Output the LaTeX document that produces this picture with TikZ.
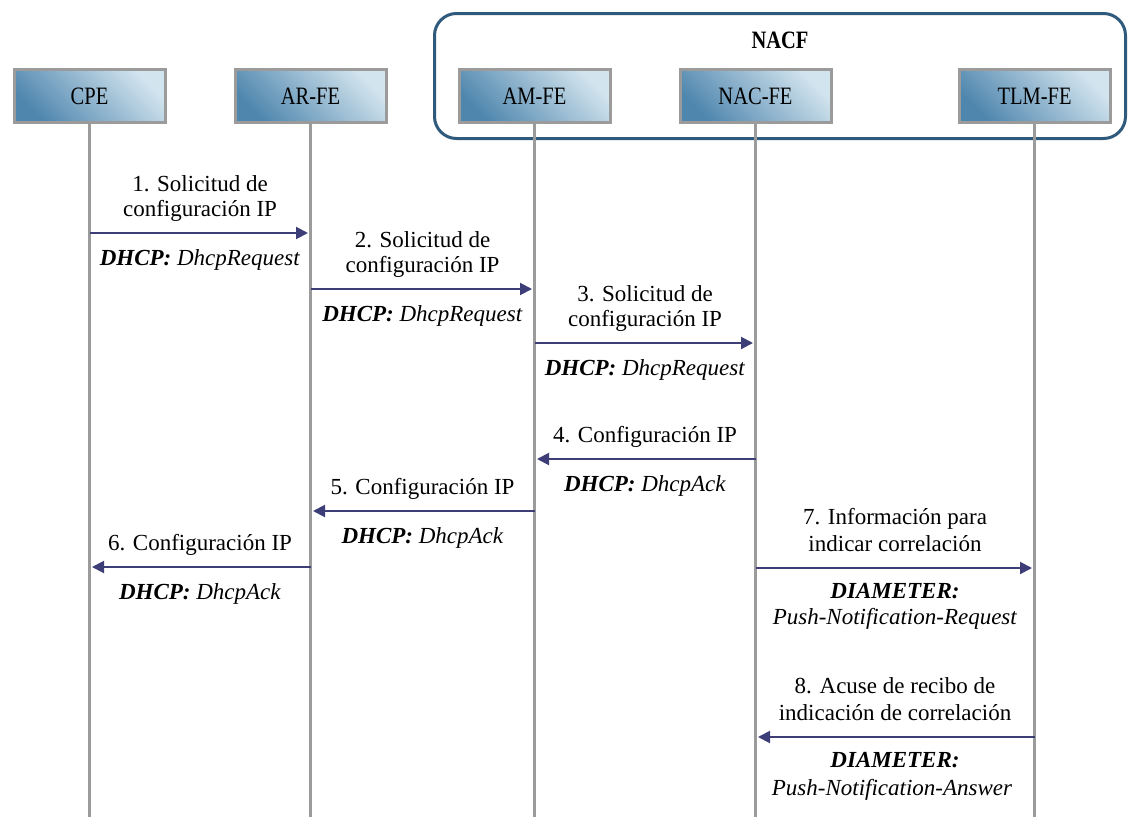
\documentclass[tikz,border=0pt]{standalone}
\usepackage{fontspec}
\setmainfont{Liberation Serif}
\newfontfamily\hdfont[FakeStretch=0.82]{Liberation Serif}
\usetikzlibrary{arrows.meta}

\definecolor{lifegray}{HTML}{9B9B9B}
\definecolor{boxdark}{HTML}{4F86AE}
\definecolor{boxlight}{HTML}{D2E4EE}
\definecolor{msgblue}{HTML}{3D3D78}
\definecolor{frameblue}{HTML}{2F5A7C}

\tikzset{
  entity/.style={draw=lifegray, line width=3pt, minimum width=151pt,
    minimum height=53pt, inner sep=0pt, top color=boxlight,
    bottom color=boxdark, shading angle=-45,
    font=\hdfont\fontsize{25}{28}\selectfont},
  group/.style={draw=frameblue, line width=3pt, rounded corners=22pt,
    minimum width=691pt, minimum height=125pt, inner sep=0pt},
  lifeline/.style={draw=lifegray, line width=3pt},
  msg/.style={draw=msgblue, line width=2pt,
    -{Triangle[length=12pt,width=12pt,sep=2.5pt]}},
  lbl/.style={anchor=base, inner sep=0pt, font=\fontsize{23}{25}\selectfont},
}
\newcommand{\proto}[2]{\textbf{\textit{#1}} \textit{#2}}

\begin{document}
\begin{tikzpicture}[x=1pt,y=-1pt]
  \useasboundingbox (0,0) rectangle (1130,817);

  % NACF grouping frame
  \node[group] (nacf) at (780,76) {};
  \node[anchor=base, inner sep=0pt, font=\hdfont\bfseries\fontsize{25}{28}\selectfont]
    (nacft) at (780,48) {NACF};

  % bottom ends of the lifelines
  \coordinate (bot) at (0,817);

  % entities
  \node[entity] (cpe) at (89.5,96)   {CPE};
  \node[entity] (ar)  at (310.5,96)  {AR-FE};
  \node[entity] (am)  at (534.5,96)  {AM-FE};
  \node[entity] (nac) at (755.5,96)  {NAC-FE};
  \node[entity] (tlm) at (1034.5,96) {TLM-FE};

  % lifelines
  \foreach \e in {cpe,ar,am,nac,tlm}
    \draw[lifeline] (\e.south) -- (\e.south |- bot);

  % message levels
  \coordinate (m1) at (0,233);
  \coordinate (m2) at (0,289);
  \coordinate (m3) at (0,343);
  \coordinate (m4) at (0,459);
  \coordinate (m5) at (0,511);
  \coordinate (m6) at (0,567);
  \coordinate (m7) at (0,568);
  \coordinate (m8) at (0,737);

  % messages
  \draw[msg] (cpe |- m1) -- (ar |- m1);
  \draw[msg] (ar |- m2)  -- (am |- m2);
  \draw[msg] (am |- m3)  -- (nac |- m3);
  \draw[msg] (nac |- m4) -- (am |- m4);
  \draw[msg] (am |- m5)  -- (ar |- m5);
  \draw[msg] (ar |- m6)  -- (cpe |- m6);
  \draw[msg] (nac |- m7) -- (tlm |- m7);
  \draw[msg] (tlm |- m8) -- (nac |- m8);

  % message 1
  \node[lbl] (l1a) at (200,191) {1. Solicitud de};
  \node[lbl] (l1b) at (200,216) {configuración IP};
  \node[lbl] (l1c) at (200,265) {\proto{DHCP:}{DhcpRequest}};
  % message 2
  \node[lbl] (l2a) at (422.5,247) {2. Solicitud de};
  \node[lbl] (l2b) at (422.5,272) {configuración IP};
  \node[lbl] (l2c) at (422.5,321) {\proto{DHCP:}{DhcpRequest}};
  % message 3
  \node[lbl] (l3a) at (645,301) {3. Solicitud de};
  \node[lbl] (l3b) at (645,326) {configuración IP};
  \node[lbl] (l3c) at (645,375) {\proto{DHCP:}{DhcpRequest}};
  % message 4
  \node[lbl] (l4a) at (645,442) {4. Configuración IP};
  \node[lbl] (l4b) at (645,491) {\proto{DHCP:}{DhcpAck}};
  % message 5
  \node[lbl] (l5a) at (422.5,494) {5. Configuración IP};
  \node[lbl] (l5b) at (422.5,543) {\proto{DHCP:}{DhcpAck}};
  % message 6
  \node[lbl] (l6a) at (200,550) {6. Configuración IP};
  \node[lbl] (l6b) at (200,599) {\proto{DHCP:}{DhcpAck}};
  % message 7
  \node[lbl] (l7a) at (895,524) {7. Información para};
  \node[lbl] (l7b) at (895,551) {indicar correlación};
  \node[lbl] (l7c) at (895,598) {\textbf{\textit{DIAMETER:}}};
  \node[lbl] (l7d) at (895,624) {\textit{Push-Notification-Request}};
  % message 8
  \node[lbl] (l8a) at (895,693) {8. Acuse de recibo de};
  \node[lbl] (l8b) at (895,720) {indicación de correlación};
  \node[lbl] (l8c) at (895,767) {\textbf{\textit{DIAMETER:}}};
  \node[lbl] (l8d) at (892,795) {\textit{Push-Notification-Answer}};
\end{tikzpicture}
\end{document}
